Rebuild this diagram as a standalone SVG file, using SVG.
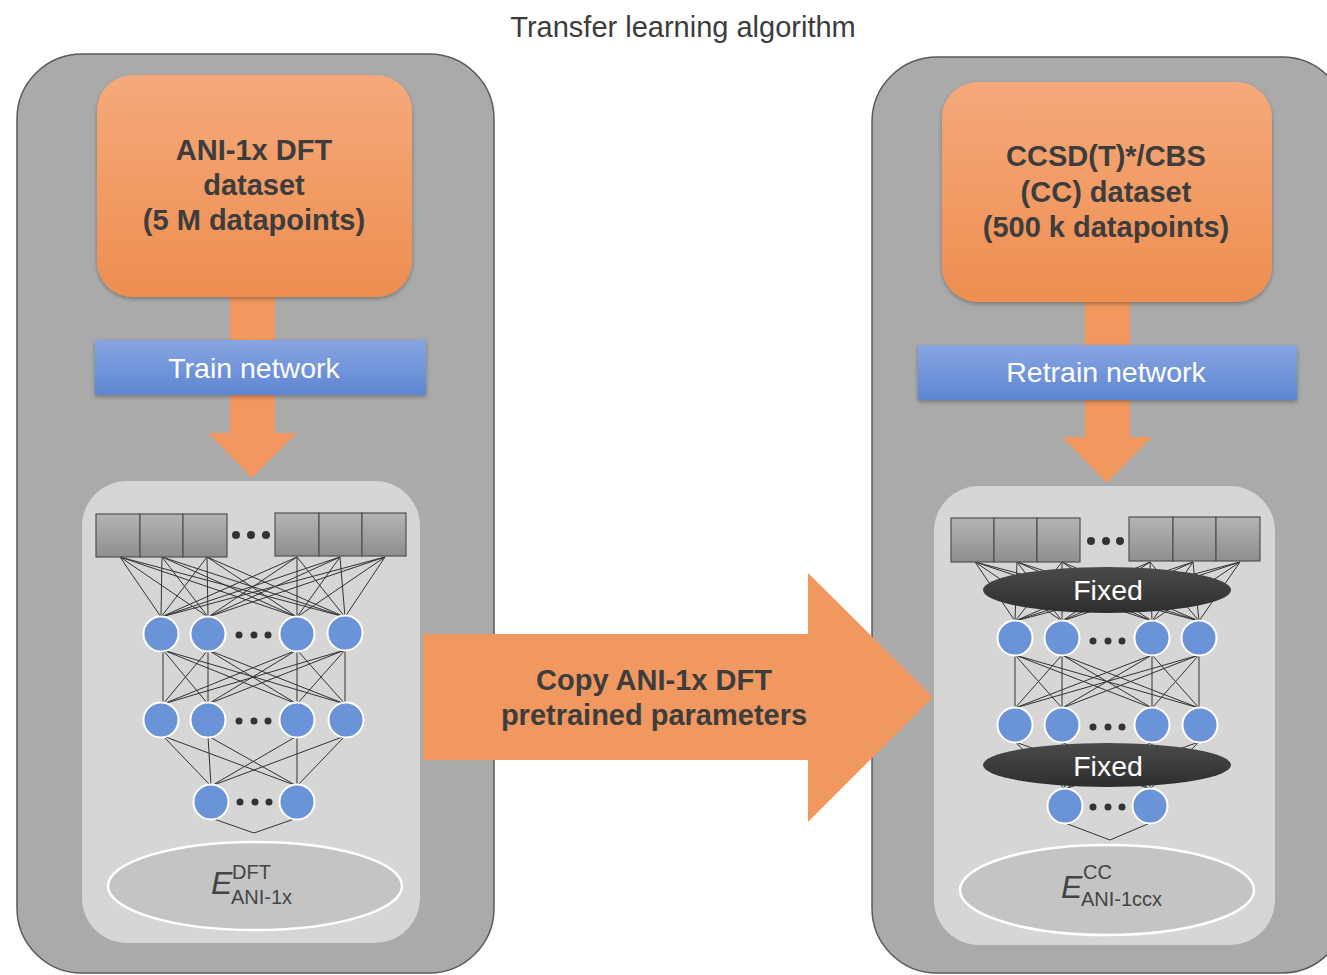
<svg xmlns="http://www.w3.org/2000/svg" width="1327" height="975" viewBox="0 0 1327 975">
  <defs>
    <linearGradient id="gOrange" x1="0" y1="0" x2="0" y2="1">
      <stop offset="0" stop-color="#f5a97b"/>
      <stop offset="1" stop-color="#ee8e50"/>
    </linearGradient>
    <linearGradient id="gBlue" x1="0" y1="0" x2="0" y2="1">
      <stop offset="0" stop-color="#87a5e2"/>
      <stop offset="1" stop-color="#5e86d2"/>
    </linearGradient>
    <linearGradient id="gCell" x1="0" y1="0" x2="0" y2="1">
      <stop offset="0" stop-color="#b4b4b4"/>
      <stop offset="1" stop-color="#8e8e8e"/>
    </linearGradient>
    <linearGradient id="gFixed" x1="0" y1="0" x2="0" y2="1">
      <stop offset="0" stop-color="#4a4a4a"/>
      <stop offset="1" stop-color="#2e2e2e"/>
    </linearGradient>
    <filter id="shadow" x="-10%" y="-10%" width="120%" height="130%">
      <feDropShadow dx="0" dy="2" stdDeviation="2" flood-color="#000" flood-opacity="0.3"/>
    </filter>
    <style>
      .outer { fill: #aaaaaa; stroke: #5a5a5a; stroke-width: 1.5; }
      .inner { fill: #d6d6d6; }
      .dataset { fill: url(#gOrange); filter: url(#shadow); }
      .bar { fill: url(#gBlue); filter: url(#shadow); }
      .flow { fill: #f0985f; }
      .cell { fill: url(#gCell); stroke: #505050; stroke-width: 1.2; }
      .neuron { fill: #6b93d8; stroke: #ffffff; stroke-width: 2; }
      .dot { fill: #333333; }
      .out { fill: #c4c4c4; stroke: #ffffff; stroke-width: 2.5; }
      .fixed { fill: url(#gFixed); }
      .wire { fill: none; stroke: #333333; stroke-width: 1; }
      .title { font-family: "Liberation Sans", Arial, sans-serif; font-size: 29px; fill: #3c3c3c; }
      .bold { font-family: "Liberation Sans", Arial, sans-serif; font-size: 29px; font-weight: bold; fill: #3d3d3d; }
      .light { font-family: "Liberation Sans", Arial, sans-serif; font-size: 28.5px; fill: #ffffff; }
      .sym { font-family: "Liberation Sans", Arial, sans-serif; fill: #444444; }
      .idx { font-size: 20px; }
    </style>
  </defs>

  <rect width="1327" height="975" fill="#ffffff"/>

  <text class="title" x="683" y="37" text-anchor="middle">Transfer learning algorithm</text>

  <!-- panels -->
  <g id="panel-pretrain">
    <rect class="outer" x="17" y="54" width="477" height="919" rx="65"/>
    <rect class="inner" x="82" y="481" width="338" height="462" rx="45"/>
  </g>
  <g id="panel-retrain">
    <rect class="outer" x="872" y="57" width="475" height="916" rx="65"/>
    <rect class="inner" x="934" y="486" width="341" height="459" rx="45"/>
  </g>

  <!-- vertical flow arrows -->
  <g id="flow-left">
    <rect class="flow" x="230" y="290" width="45" height="145"/>
    <polygon class="flow" points="208,433 297,433 252,478"/>
  </g>
  <g id="flow-right">
    <rect class="flow" x="1085" y="295" width="45" height="144"/>
    <polygon class="flow" points="1062,437 1152,437 1107,483"/>
  </g>

  <!-- dataset boxes -->
  <g id="dataset-dft">
    <rect class="dataset" x="97" y="75" width="315" height="222" rx="36"/>
    <text class="bold" text-anchor="middle" x="254" y="160">ANI-1x DFT</text>
    <text class="bold" text-anchor="middle" x="254" y="195">dataset</text>
    <text class="bold" text-anchor="middle" x="254" y="230">(5 M datapoints)</text>
  </g>
  <g id="dataset-cc">
    <rect class="dataset" x="942" y="82" width="330" height="220" rx="36"/>
    <text class="bold" text-anchor="middle" x="1106" y="166">CCSD(T)*/CBS</text>
    <text class="bold" text-anchor="middle" x="1106" y="202">(CC) dataset</text>
    <text class="bold" text-anchor="middle" x="1106" y="237">(500 k datapoints)</text>
  </g>

  <!-- training steps -->
  <g id="step-train">
    <rect class="bar" x="95" y="340" width="331" height="55"/>
    <text class="light" text-anchor="middle" x="254" y="378">Train network</text>
  </g>
  <g id="step-retrain">
    <rect class="bar" x="918" y="345" width="379" height="55"/>
    <text class="light" text-anchor="middle" x="1106" y="382">Retrain network</text>
  </g>

  <!-- parameter copy arrow -->
  <g id="copy-arrow">
    <polygon class="flow" points="423,634 808,634 808,573 933,697 808,822 808,760 423,760"/>
    <text class="bold" text-anchor="middle" x="654" y="690">Copy ANI-1x DFT</text>
    <text class="bold" text-anchor="middle" x="654" y="725">pretrained parameters</text>
  </g>

  <!-- network weights -->
  <g id="connectors">
    <path class="wire" d="
      M120,557 L161,617 M120,557 L208,617 M120,557 L297,617 M120,557 L345,617
      M162,557 L161,617 M162,557 L208,617 M162,557 L297,617 M162,557 L345,617
      M207,557 L161,617 M207,557 L208,617 M207,557 L297,617 M207,557 L345,617
      M297,557 L161,617 M297,557 L208,617 M297,557 L297,617 M297,557 L345,617
      M340,557 L161,617 M340,557 L208,617 M340,557 L297,617 M340,557 L345,617
      M385,557 L161,617 M385,557 L208,617 M385,557 L297,617 M385,557 L345,617"/>
    <path class="wire" d="
      M163,650 L163,704 M163,650 L208,704 M163,650 L297,704 M163,650 L345,704
      M208,650 L163,704 M208,650 L208,704 M208,650 L297,704 M208,650 L345,704
      M297,650 L163,704 M297,650 L208,704 M297,650 L297,704 M297,650 L345,704
      M345,650 L163,704 M345,650 L208,704 M345,650 L297,704 M345,650 L345,704"/>
    <path class="wire" d="
      M163,736 L211,786 M163,736 L297,786
      M208,736 L211,786 M208,736 L297,786
      M297,736 L211,786 M297,736 L297,786
      M345,736 L211,786 M345,736 L297,786"/>
    <path class="wire" d="M211,818 L254,833 L297,818"/>

    <path class="wire" d="
      M975,562 L1015,621 M975,562 L1062,621 M975,562 L1152,621 M975,562 L1199,621
      M1017,562 L1015,621 M1017,562 L1062,621 M1017,562 L1152,621 M1017,562 L1199,621
      M1062,562 L1015,621 M1062,562 L1062,621 M1062,562 L1152,621 M1062,562 L1199,621
      M1150,562 L1015,621 M1150,562 L1062,621 M1150,562 L1152,621 M1150,562 L1199,621
      M1193,562 L1015,621 M1193,562 L1062,621 M1193,562 L1152,621 M1193,562 L1199,621
      M1240,562 L1015,621 M1240,562 L1062,621 M1240,562 L1152,621 M1240,562 L1199,621"/>
    <path class="wire" d="
      M1015,655 L1015,708 M1015,655 L1062,708 M1015,655 L1152,708 M1015,655 L1199,708
      M1062,655 L1015,708 M1062,655 L1062,708 M1062,655 L1152,708 M1062,655 L1199,708
      M1152,655 L1015,708 M1152,655 L1062,708 M1152,655 L1152,708 M1152,655 L1199,708
      M1199,655 L1015,708 M1199,655 L1062,708 M1199,655 L1152,708 M1199,655 L1199,708"/>
    <path class="wire" d="
      M1015,742 L1065,789 M1015,742 L1150,789
      M1062,742 L1065,789 M1062,742 L1150,789
      M1152,742 L1065,789 M1152,742 L1150,789
      M1199,742 L1065,789 M1199,742 L1150,789"/>
    <path class="wire" d="M1065,823 L1110,840 L1150,823"/>
  </g>

  <!-- pretraining network -->
  <g id="net-dft">
    <rect class="cell" x="96" y="514" width="44" height="43"/>
    <rect class="cell" x="140" y="514" width="43" height="43"/>
    <rect class="cell" x="183" y="514" width="44" height="43"/>
    <circle class="dot" cx="236" cy="535" r="4"/>
    <circle class="dot" cx="251" cy="535" r="4"/>
    <circle class="dot" cx="266" cy="535" r="4"/>
    <rect class="cell" x="275" y="513" width="44" height="43"/>
    <rect class="cell" x="319" y="513" width="43" height="43"/>
    <rect class="cell" x="362" y="513" width="44" height="43"/>

    <circle class="neuron" cx="161" cy="634" r="17.5"/>
    <circle class="neuron" cx="208" cy="634" r="17.5"/>
    <circle class="dot" cx="239" cy="635" r="3.5"/>
    <circle class="dot" cx="254" cy="635" r="3.5"/>
    <circle class="dot" cx="268" cy="635" r="3.5"/>
    <circle class="neuron" cx="297" cy="634" r="17.5"/>
    <circle class="neuron" cx="345" cy="633" r="17.5"/>

    <circle class="neuron" cx="161" cy="720" r="17.5"/>
    <circle class="neuron" cx="208" cy="720" r="17.5"/>
    <circle class="dot" cx="239" cy="721" r="3.5"/>
    <circle class="dot" cx="254" cy="721" r="3.5"/>
    <circle class="dot" cx="268" cy="721" r="3.5"/>
    <circle class="neuron" cx="297" cy="720" r="17.5"/>
    <circle class="neuron" cx="346" cy="720" r="17.5"/>

    <circle class="neuron" cx="211" cy="802" r="17.5"/>
    <circle class="dot" cx="240" cy="802" r="3.5"/>
    <circle class="dot" cx="255" cy="802" r="3.5"/>
    <circle class="dot" cx="269" cy="802" r="3.5"/>
    <circle class="neuron" cx="297" cy="802" r="17.5"/>

    <ellipse class="out" cx="255" cy="886" rx="147" ry="44"/>
    <text class="sym" x="211" y="894" font-size="32" font-style="italic">E</text>
    <text class="sym idx" x="232" y="879">DFT</text>
    <text class="sym idx" x="231" y="904">ANI-1x</text>
  </g>

  <!-- transfer network -->
  <g id="net-cc">
    <rect class="cell" x="951" y="518" width="43" height="44"/>
    <rect class="cell" x="994" y="518" width="43" height="44"/>
    <rect class="cell" x="1037" y="518" width="43" height="44"/>
    <circle class="dot" cx="1091" cy="541" r="4"/>
    <circle class="dot" cx="1106" cy="541" r="4"/>
    <circle class="dot" cx="1120" cy="541" r="4"/>
    <rect class="cell" x="1129" y="517" width="44" height="44"/>
    <rect class="cell" x="1173" y="517" width="43" height="44"/>
    <rect class="cell" x="1216" y="517" width="44" height="44"/>

    <ellipse class="fixed" cx="1107" cy="590" rx="124" ry="23"/>
    <text class="light" text-anchor="middle" x="1108" y="600">Fixed</text>

    <circle class="neuron" cx="1015" cy="638" r="17.5"/>
    <circle class="neuron" cx="1062" cy="638" r="17.5"/>
    <circle class="dot" cx="1093" cy="641" r="3.5"/>
    <circle class="dot" cx="1108" cy="641" r="3.5"/>
    <circle class="dot" cx="1122" cy="641" r="3.5"/>
    <circle class="neuron" cx="1152" cy="638" r="17.5"/>
    <circle class="neuron" cx="1199" cy="638" r="17.5"/>

    <circle class="neuron" cx="1015" cy="725" r="17.5"/>
    <circle class="neuron" cx="1062" cy="725" r="17.5"/>
    <circle class="dot" cx="1093" cy="727" r="3.5"/>
    <circle class="dot" cx="1108" cy="727" r="3.5"/>
    <circle class="dot" cx="1122" cy="727" r="3.5"/>
    <circle class="neuron" cx="1152" cy="725" r="17.5"/>
    <circle class="neuron" cx="1200" cy="725" r="17.5"/>

    <ellipse class="fixed" cx="1107" cy="765" rx="124" ry="22"/>
    <text class="light" text-anchor="middle" x="1108" y="776">Fixed</text>

    <circle class="neuron" cx="1065" cy="806" r="17.5"/>
    <circle class="dot" cx="1093" cy="807" r="3.5"/>
    <circle class="dot" cx="1108" cy="807" r="3.5"/>
    <circle class="dot" cx="1122" cy="807" r="3.5"/>
    <circle class="neuron" cx="1150" cy="806" r="17.5"/>

    <ellipse class="out" cx="1107" cy="890" rx="147" ry="45"/>
    <text class="sym" x="1061" y="898" font-size="32" font-style="italic">E</text>
    <text class="sym idx" x="1083" y="879">CC</text>
    <text class="sym idx" x="1081" y="906">ANI-1ccx</text>
  </g>
</svg>
